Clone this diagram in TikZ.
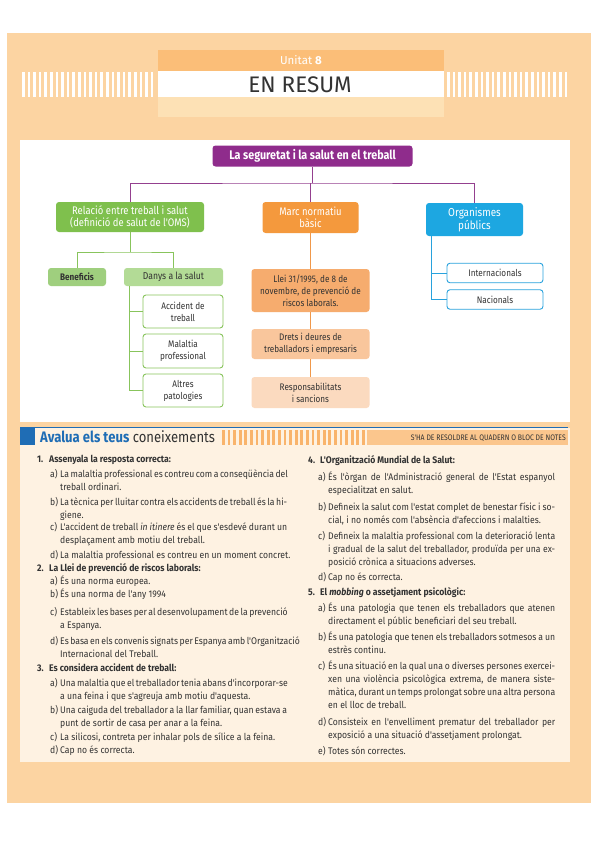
\documentclass[tikz,border=0pt]{standalone}
\usepackage{fontspec}
\setmainfont{Fira Sans}
\newfontfamily\cond[FakeStretch=0.86]{Fira Sans}
\newfontfamily\condb[FakeStretch=0.9]{Fira Sans}
\definecolor{cframe}{HTML}{FCD4A2}
\definecolor{cbandd}{HTML}{FBBE78}
\definecolor{cbandp}{HTML}{FDE1B5}
\definecolor{cpanel}{HTML}{FEF2E2}
\definecolor{cpurple}{HTML}{8F2C8C}
\definecolor{cgreen}{HTML}{7FC04D}
\definecolor{cgreenl}{HTML}{9FCF7E}
\definecolor{cgreenll}{HTML}{B3DB96}
\definecolor{cgline}{HTML}{88C45C}
\definecolor{corange}{HTML}{F4993D}
\definecolor{corA}{HTML}{F6AC6E}
\definecolor{corB}{HTML}{F9C69C}
\definecolor{corC}{HTML}{FBDABF}
\definecolor{cblue}{HTML}{1DA7E1}
\definecolor{cbline}{HTML}{28A2DD}
\definecolor{cpline}{HTML}{94408F}
\definecolor{coline}{HTML}{F0984A}
\definecolor{ctext}{HTML}{333333}
\definecolor{cheadblue}{HTML}{1F6DB5}
\definecolor{cstripe}{HTML}{F9B46C}
\definecolor{cnote}{HTML}{FBC68D}
\newlength\colw
\setlength\colw{227pt}
\newcommand\jl[1]{\makebox[\colw][s]{#1}}
\newcommand\lt[1]{\makebox[10pt][l]{#1}}
\newcommand\nm[1]{\makebox[12pt][l]{#1}}
\newcommand\ind{\hspace*{10pt}}
\tikzset{
  box/.style={rounded corners=3pt, inner sep=0pt, align=center, text=ctext,
    font=\cond\fontsize{9.5}{12}\selectfont},
  rootbox/.style={box, fill=cpurple, text=white, minimum width=200pt, minimum height=21pt,
    font=\cond\bfseries\fontsize{12.5}{13}\selectfont},
  gbox/.style={box, fill=cgreen, text=white, minimum width=148pt, minimum height=30pt,
    font=\cond\fontsize{11}{12.5}\selectfont},
  obox/.style={box, fill=corange, text=white, minimum width=96pt, minimum height=31pt,
    font=\cond\fontsize{11}{12.5}\selectfont},
  bbox/.style={box, fill=cblue, text=white, minimum width=97pt, minimum height=33pt,
    font=\cond\fontsize{11.5}{13}\selectfont},
  lgbox/.style={box, fill=cgreenll, minimum height=18pt, font=\cond\fontsize{10}{12}\selectfont},
  gout/.style={box, draw=cgline, line width=0.9pt, fill=white, minimum width=80pt, minimum height=33pt},
  ofill/.style={box, minimum width=118pt},
  bout/.style={box, draw=cbline, line width=0.9pt, fill=white, minimum width=96pt, minimum height=19.5pt},
  pline/.style={draw=cpline, line width=0.8pt},
  gline/.style={draw=cgline, line width=0.8pt},
  oline/.style={draw=coline, line width=0.8pt},
  bline/.style={draw=cbline, line width=0.8pt},
  qtext/.style={anchor=north west, inner sep=0pt, align=left, text=ctext,
    font=\condb\fontsize{9.6}{13}\selectfont},
  qhead/.style={qtext, font=\condb\bfseries\fontsize{9.6}{13}\selectfont}
}
\begin{document}
\begin{tikzpicture}[x=1pt,y=-1pt]
\useasboundingbox (0,0) rectangle (599,848);
\fill[white] (0,0) rectangle (599,848);
\fill[cframe] (7,33) rectangle (591,803);
% title
\fill[cbandd] (158,50) rectangle (444,71);
\fill[white] (158,71) rectangle (444,97);
\fill[cbandp] (158,97) rectangle (444,117);
\foreach \i in {0,...,23} { \fill[white] (22+\i*5.6,72) rectangle ++(2.6,25); }
\foreach \i in {0,...,21} { \fill[white] (447+\i*5.6,72) rectangle ++(2.6,25); }
\node[inner sep=0pt, text=white, font=\fontsize{11.5}{11.5}\selectfont] (unitat) at (301,60.5) {Unitat \textbf{8}};
\node[inner sep=0pt, text=ctext, font=\fontsize{22.5}{22.5}\selectfont] (resum) at (300,84.5) {EN RESUM};
% panels
\fill[white] (20,140) rectangle (570,422);
\fill[cpanel] (20,428) rectangle (570,762);
% concept map
\node[rootbox] (root) at (312.5,156) {La seguretat i la salut en el treball};
\node[gbox] (rel) at (130,217) {Relació entre treball i salut\\(definició de salut de l'OMS)};
\node[obox] (marc) at (310.5,217.5) {Marc normatiu\\bàsic};
\node[bbox] (org) at (474.5,219.5) {Organismes\\públics};
\node[lgbox, fill=cgreenl, minimum width=58pt, font=\cond\bfseries\fontsize{9.5}{12}\selectfont] (ben) at (77,277) {Beneficis};
\node[lgbox, minimum width=99pt] (dan) at (173.5,277) {Danys a la salut};
\node[gout] (acc) at (183,311.5) {Accident de\\treball};
\node[gout, minimum height=34pt] (mal) at (183,351) {Malaltia\\professional};
\node[gout] (alt) at (183,390.5) {Altres\\patologies};
\node[ofill, fill=corA, minimum height=43pt] (llei) at (310.5,290.5) {Llei 31/1995, de 8 de\\novembre, de prevenció de\\riscos laborals.};
\node[ofill, fill=corB, minimum height=30pt] (drets) at (310.5,344) {Drets i deures de\\treballadors i empresaris};
\node[ofill, fill=corC, minimum height=31pt] (resp) at (310.5,392.5) {Responsabilitats\\i sancions};
\node[bout] (intl) at (495,273) {Internacionals};
\node[bout] (nac) at (495,299.5) {Nacionals};
% connectors
\coordinate (jr) at (312.5,183);
\draw[pline] (root.south) -- (jr);
\draw[pline] (rel.north) |- (jr) -| (org.north);
\draw[pline] (marc.north) -- (marc.north |- jr);
\coordinate (jg) at (130,252);
\draw[gline] (rel.south) -- (jg);
\draw[gline] (ben.north) |- (jg) -| (dan.north);
\coordinate (dk) at ([xshift=5.5pt]dan.south west);
\draw[gline] (dk) |- (alt.west);
\draw[gline] (acc.west) -- (acc.west -| dk);
\draw[gline] (mal.west) -- (mal.west -| dk);
\draw[oline] (marc) -- (llei);
\draw[oline] (llei) -- (drets);
\draw[oline] (drets) -- (resp);
\coordinate (bk) at ([xshift=6pt]org.south west);
\draw[bline] (bk) |- (nac.west);
\draw[bline] (intl.west) -- (intl.west -| bk);
% section header
\fill[cheadblue] (20,428) rectangle (35,445);
\draw[cheadblue, line width=1pt] (20,427.5) -- (568,427.5);
\node[anchor=base west, inner sep=0pt, font=\cond\fontsize{15.2}{15}\selectfont] (aval) at (40,442.5)
  {\textcolor{cheadblue}{\bfseries Avalua els teus} \textcolor{ctext}{coneixements}};
\foreach \i in {0,...,25} { \fill[cstripe] (222+\i*5.6,430) rectangle ++(2.8,15); }
\fill[cnote] (367,430) rectangle (568,445);
\node[anchor=east, inner sep=0pt, text=ctext, font=\cond\fontsize{8}{8}\selectfont] (note) at (566,438) {S'HA DE RESOLDRE AL QUADERN O BLOC DE NOTES};
% left column
\node[qhead] (q1) at (37,453.4) {\strut\nm{1.}Assenyala la resposta correcta:};
\node[qtext] (q1a) at (50,468.4) {\strut\lt{a)}\jl{La malaltia professional es contreu com a conseqüència del}\\\ind treball ordinari.};
\node[qtext] (q1b) at (50,496.4) {\strut\lt{b)}\jl{La tècnica per lluitar contra els accidents de treball és la hi-}\\\ind giene.};
\node[qtext] (q1c) at (50,521.4) {\strut\lt{c)}\jl{L'accident de treball \textit{in itinere} és el que s'esdevé durant un}\\\ind desplaçament amb motiu del treball.};
\node[qtext] (q1d) at (50,549.4) {\strut\lt{d)}La malaltia professional es contreu en un moment concret.};
\node[qhead] (q2) at (37,562.4) {\strut\nm{2.}La Llei de prevenció de riscos laborals:};
\node[qtext] (q2a) at (50,575.4) {\strut\lt{a)}És una norma europea.};
\node[qtext] (q2b) at (50,588.4) {\strut\lt{b)}És una norma de l'any 1994};
\node[qtext] (q2c) at (50,606.4) {\strut\lt{c)}\jl{Estableix les bases per al desenvolupament de la prevenció}\\\ind a Espanya.};
\node[qtext] (q2d) at (50,635.4) {\strut\lt{d)}\jl{Es basa en els convenis signats per Espanya amb l'Organització}\\\ind Internacional del Treball.};
\node[qhead] (q3) at (37,662.4) {\strut\nm{3.}Es considera accident de treball:};
\node[qtext] (q3a) at (50,677.4) {\strut\lt{a)}\jl{Una malaltia que el treballador tenia abans d'incorporar-se}\\\ind a una feina i que s'agreuja amb motiu d'aquesta.};
\node[qtext] (q3b) at (50,704.4) {\strut\lt{b)}\jl{Una caiguda del treballador a la llar familiar, quan estava a}\\\ind punt de sortir de casa per anar a la feina.};
\node[qtext] (q3c) at (50,731.4) {\strut\lt{c)}La silicosi, contreta per inhalar pols de sílice a la feina.};
\node[qtext] (q3d) at (50,744.4) {\strut\lt{d)}Cap no és correcta.};
% right column
\node[qhead] (q4) at (308,454.4) {\strut\nm{4.}L'Organització Mundial de la Salut:};
\node[qtext] (q4a) at (318,471.4) {\strut\lt{a)}\jl{És l'òrgan de l'Administració general de l'Estat espanyol}\\\ind especialitzat en salut.};
\node[qtext] (q4b) at (318,501.4) {\strut\lt{b)}\jl{Defineix la salut com l'estat complet de benestar físic i so-}\\\ind cial, i no només com l'absència d'afeccions i malalties.};
\node[qtext] (q4c) at (318,530.4) {\strut\lt{c)}\jl{Defineix la malaltia professional com la deterioració lenta}\\\ind\jl{i gradual de la salut del treballador, produïda per una ex-}\\\ind posició crònica a situacions adverses.};
\node[qtext] (q4d) at (318,571.4) {\strut\lt{d)}Cap no és correcta.};
\node[qhead] (q5) at (308,586.4) {\strut\nm{5.}El \textit{mobbing} o assetjament psicològic:};
\node[qtext] (q5a) at (318,602.4) {\strut\lt{a)}\jl{És una patologia que tenen els treballadors que atenen}\\\ind directament el públic beneficiari del seu treball.};
\node[qtext] (q5b) at (318,631.4) {\strut\lt{b)}\jl{És una patologia que tenen els treballadors sotmesos a un}\\\ind estrès continu.};
\node[qtext] (q5c) at (318,660.4) {\strut\lt{c)}\jl{És una situació en la qual una o diverses persones exercei-}\\\ind\jl{xen una violència psicològica extrema, de manera siste-}\\\ind\jl{màtica, durant un temps prolongat sobre una altra persona}\\\ind en el lloc de treball.};
\node[qtext] (q5d) at (318,716.4) {\strut\lt{d)}\jl{Consisteix en l'envelliment prematur del treballador per}\\\ind exposició a una situació d'assetjament prolongat.};
\node[qtext] (q5e) at (318,745.4) {\strut\lt{e)}Totes són correctes.};
\end{tikzpicture}
\end{document}
